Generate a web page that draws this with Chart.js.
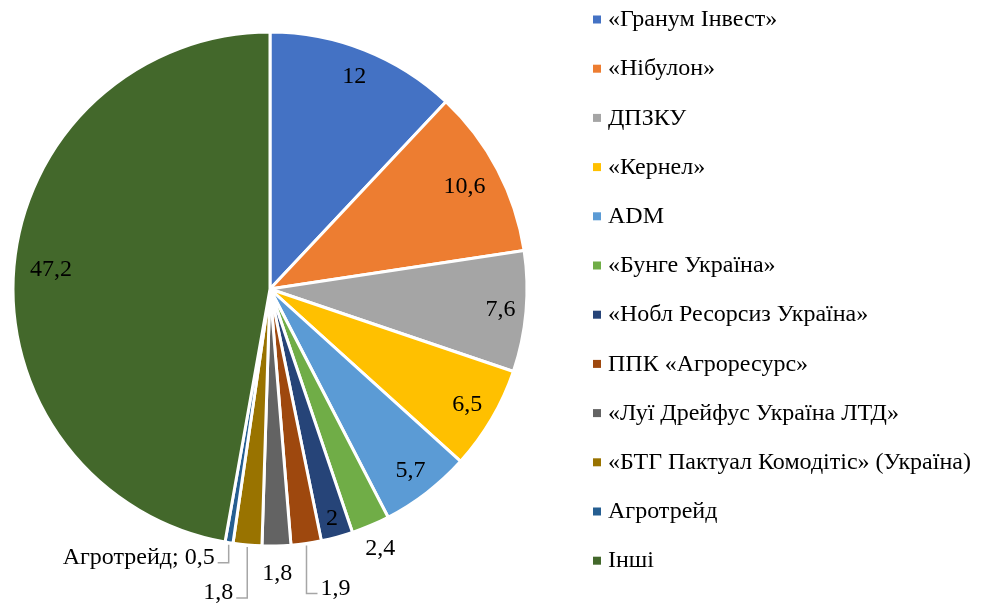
<!DOCTYPE html>
<html>
<head>
<meta charset="utf-8">
<script src="https://cdn.jsdelivr.net/npm/chart.js@4"></script>
<style>
  html, body { margin: 0; padding: 0; background: #fff; }
  #wrap { width: 985px; height: 603px; position: relative; }
</style>
</head>
<body>
<div id="wrap"><canvas id="pie"></canvas></div>
<script>
// company shares, % (values as printed on the slices)
var names = [
  "«Гранум Інвест»", "«Нібулон»", "ДПЗКУ", "«Кернел»", "ADM", "«Бунге Україна»",
  "«Нобл Ресорсиз Україна»", "ППК «Агроресурс»", "«Луї Дрейфус Україна ЛТД»",
  "«БТГ Пактуал Комодітіс» (Україна)", "Агротрейд", "Інші"
];
var shares = [12, 10.6, 7.6, 6.5, 5.7, 2.4, 2, 1.9, 1.8, 1.8, 0.5, 47.2];
var colors = [
  "#4472C4", "#ED7D31", "#A5A5A5", "#FFC000", "#5B9BD5", "#70AD47",
  "#264478", "#9E480E", "#636363", "#997300", "#255E91", "#43682B"
];

// where each value label goes (excel "best fit" put them kind of all over the place)
var labelPlace = [
  { mode: "in", r: 0.89 },
  { mode: "in", r: 0.855 },
  { mode: "in", r: 0.90 },
  { mode: "in", r: 0.89 },
  { mode: "in", r: 0.895 },
  { mode: "out", gap: 25 },
  { mode: "in", r: 0.925 },
  { mode: "leader", dy: 43, side: 1 },
  { mode: "out", gap: 28 },
  { mode: "leader", dy: 46, side: -1 },
  { mode: "leader", dy: 13, side: -1, withName: true },
  { mode: "in", r: 0.855 }
];

var FONT = "24px 'Liberation Serif', 'Times New Roman', serif";

function fmt(v) { return String(v).replace(".", ","); }

var valueLabels = {
  id: "valueLabels",
  afterDatasetsDraw: function(chart) {
    var ctx = chart.ctx;
    var arcs = chart.getDatasetMeta(0).data;
    ctx.save();
    ctx.font = FONT;
    ctx.fillStyle = "#000";
    for (var i = 0; i < arcs.length; i++) {
      var a = arcs[i];
      var p = labelPlace[i];
      var mid = (a.startAngle + a.endAngle) / 2;
      var R = a.outerRadius;
      var txt = fmt(shares[i]);
      if (p.mode === "in" || p.mode === "out") {
        var rr = p.mode === "in" ? R * p.r : R + p.gap;
        ctx.textAlign = "center";
        ctx.textBaseline = "middle";
        ctx.fillText(txt, a.x + Math.cos(mid) * rr, a.y + Math.sin(mid) * rr);
      } else {
        var ex = a.x + Math.cos(mid) * (R + 2);
        var ey = a.y + Math.sin(mid) * (R + 2);
        var lineY = ey + p.dy + 5;
        var endX = ex + p.side * 11;
        ctx.strokeStyle = "#A6A6A6";
        ctx.lineWidth = 1.5;
        ctx.beginPath();
        ctx.moveTo(ex, ey);
        ctx.lineTo(ex, lineY);
        ctx.lineTo(endX, lineY);
        ctx.stroke();
        if (p.withName) txt = names[i] + "; " + txt;
        ctx.textAlign = p.side > 0 ? "left" : "right";
        ctx.textBaseline = "middle";
        ctx.fillText(txt, endX + p.side * 3, ey + p.dy);
      }
    }
    ctx.restore();
  }
};

// own legend, the built-in one wouldn't space out like the original
var sideLegend = {
  id: "sideLegend",
  afterDraw: function(chart) {
    var ctx = chart.ctx;
    ctx.save();
    ctx.font = FONT;
    ctx.textAlign = "left";
    ctx.textBaseline = "middle";
    for (var i = 0; i < names.length; i++) {
      var y = 20 + i * 49.2;
      ctx.fillStyle = colors[i];
      ctx.fillRect(593, y - 4.5, 8, 8);
      ctx.fillStyle = "#000";
      ctx.fillText(names[i], 608, y);
    }
    ctx.restore();
  }
};

new Chart(document.getElementById("pie"), {
  type: "pie",
  data: {
    labels: names,
    datasets: [{
      data: shares,
      backgroundColor: colors,
      borderColor: "#fff",
      borderWidth: 3,
      radius: 257
    }]
  },
  options: {
    responsive: true,
    maintainAspectRatio: false,
    animation: false,
    events: [],
    layout: { padding: { left: 14, right: 459, top: 33, bottom: 58 } },
    plugins: { legend: { display: false }, tooltip: { enabled: false } }
  },
  plugins: [valueLabels, sideLegend]
});
</script>
</body>
</html>
